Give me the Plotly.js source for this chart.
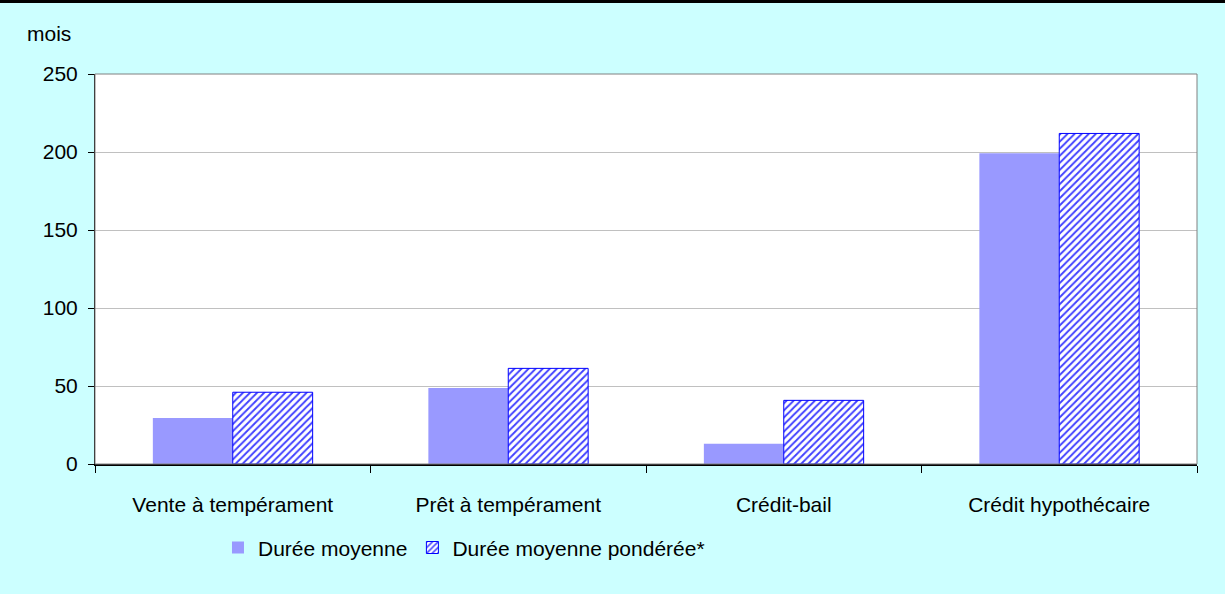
<!DOCTYPE html>
<html>
<head>
<meta charset="utf-8">
<script src="https://cdn.plot.ly/plotly-3.0.1.min.js"></script>
<style>
html, body { margin: 0; padding: 0; background: #CCFFFF; }
#wrap { position: relative; width: 1225px; height: 594px; }
#chart { width: 1225px; height: 594px; }
#topline { position: absolute; left: 0; top: 0; width: 1225px; height: 3px; background: #000; }
</style>
</head>
<body>
<div id="wrap">
<div id="chart"></div>
<div id="topline"></div>
</div>
<script>
const categories = ["Vente à tempérament", "Prêt à tempérament", "Crédit-bail", "Crédit hypothécaire"];
const seriesNames = ["Durée moyenne", "Durée moyenne pondérée*"];
const dureeMoyenne = [29.5, 48.7, 13, 199.2];
const dureePonderee = [46, 61.3, 40.8, 211.9];
const yTicks = [0, 50, 100, 150, 200, 250];

const FONT = "Liberation Sans, Arial, sans-serif";
const FS = 21;

const traces = [
  {
    type: "bar",
    name: seriesNames[0],
    x: categories,
    y: dureeMoyenne,
    marker: { color: "#9999FF", line: { width: 0 } },
    hoverinfo: "skip"
  },
  {
    type: "bar",
    name: seriesNames[1],
    x: categories,
    y: dureePonderee,
    marker: {
      color: "#FFFFFF",
      line: { color: "#0000FF", width: 1 },
      pattern: { shape: "/", fgcolor: "#4040FF", bgcolor: "#FFFFFF", size: 5, solidity: 0.38, fillmode: "replace" }
    },
    hoverinfo: "skip"
  }
];

const layout = {
  width: 1225,
  height: 594,
  paper_bgcolor: "#CCFFFF",
  plot_bgcolor: "#FFFFFF",
  margin: { l: 95, r: 28, t: 74, b: 130 },
  barmode: "group",
  bargap: 0.42,
  bargroupgap: 0,
  font: { family: FONT, size: FS, color: "#000000" },
  showlegend: true,
  legend: {
    orientation: "h",
    x: 0.1116, xanchor: "left",
    y: -0.215, yanchor: "middle",
    bgcolor: "rgba(0,0,0,0)",
    font: { family: FONT, size: FS, color: "#000" },
    itemwidth: 30,
    traceorder: "normal"
  },
  xaxis: {
    type: "category",
    tickson: "boundaries",
    ticks: "outside",
    ticklen: 7,
    tickcolor: "#000",
    showline: true,
    linecolor: "#000",
    linewidth: 1.5,
    showgrid: false,
    ticklabelstandoff: 21,
    tickfont: { family: FONT, size: FS, color: "#000" }
  },
  yaxis: {
    range: [0, 250],
    tickvals: yTicks,
    ticktext: yTicks.map(String),
    ticks: "outside",
    ticklen: 6,
    tickcolor: "#000",
    showline: true,
    linecolor: "#000",
    linewidth: 1,
    showgrid: true,
    gridcolor: "#C0C0C0",
    gridwidth: 1,
    zeroline: false,
    ticklabelstandoff: 6,
    tickfont: { family: FONT, size: FS, color: "#000" }
  },
  shapes: [
    { type: "rect", xref: "paper", yref: "paper", x0: 0, x1: 1, y0: 0, y1: 1,
      line: { color: "#808080", width: 1 }, fillcolor: "rgba(0,0,0,0)", layer: "above" }
  ],
  annotations: [
    { text: "mois", xref: "paper", yref: "paper", x: -0.0635, y: 1.105,
      xanchor: "left", yanchor: "middle", showarrow: false,
      font: { family: FONT, size: FS, color: "#000" } }
  ]
};

Plotly.newPlot("chart", traces, layout, { displayModeBar: false, staticPlot: true });
</script>
</body>
</html>
